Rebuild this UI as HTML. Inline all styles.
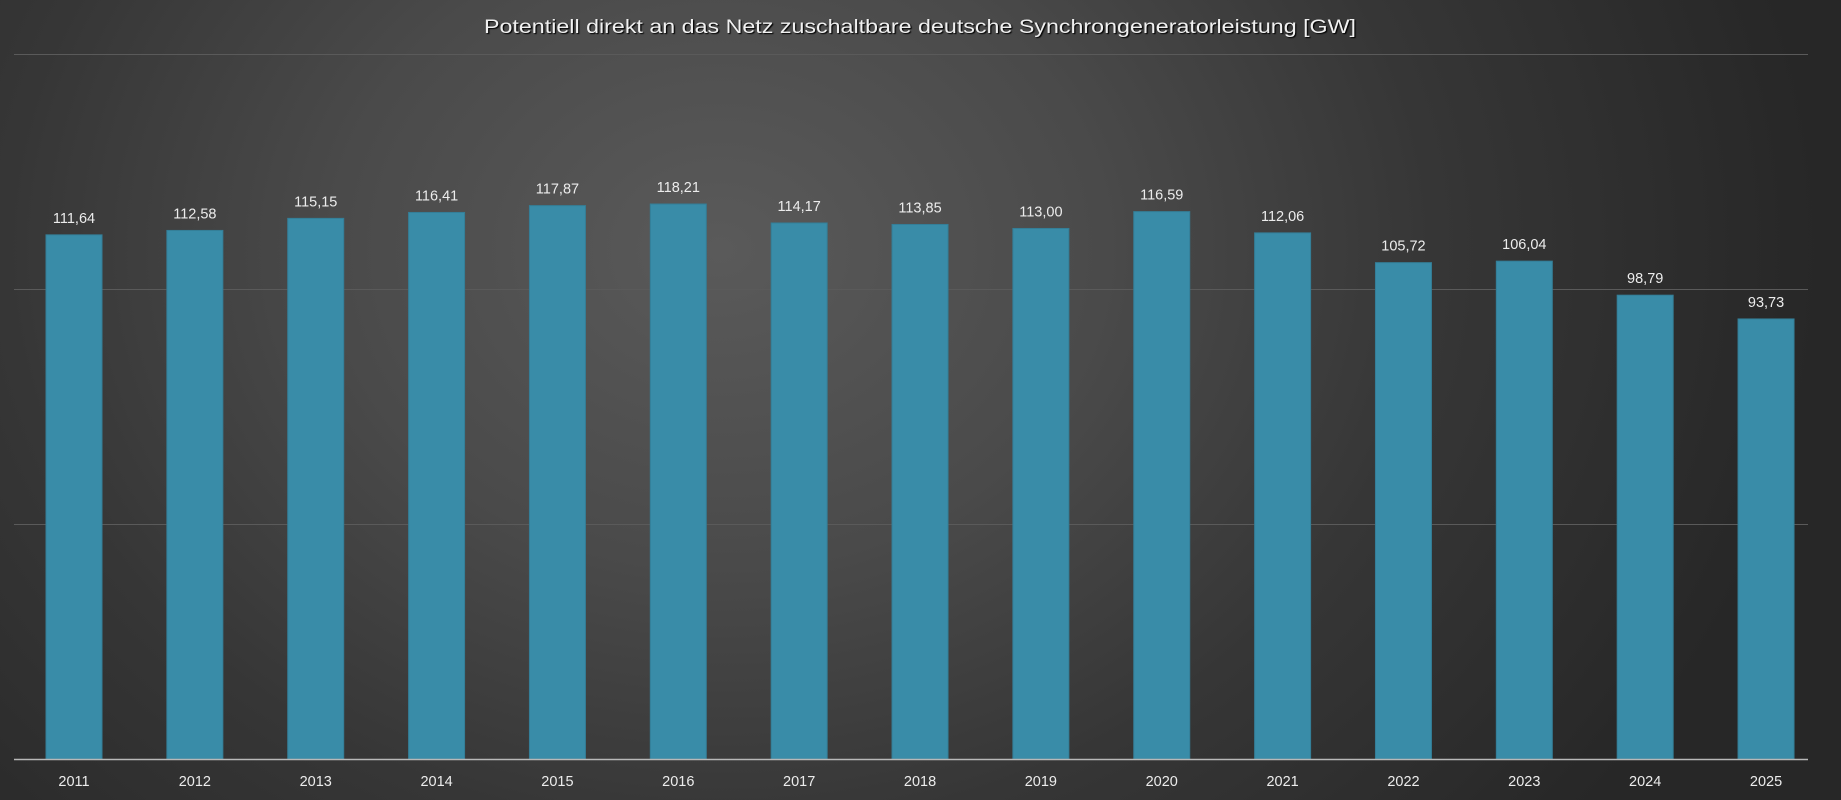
<!DOCTYPE html>
<html><head><meta charset="utf-8"><style>
html,body{margin:0;padding:0;}
body{width:1841px;height:800px;overflow:hidden;background:radial-gradient(ellipse 1100px 900px at 720px 250px,#5a5a5a 0%,#4a4a4a 35%,#363636 65%,#272727 100%);}
svg{display:block;font-family:"Liberation Sans","DejaVu Sans",sans-serif;}
</style></head><body>
<svg width="1841" height="800" xmlns="http://www.w3.org/2000/svg">
<text x="920" y="33" fill="#f0f0f0" font-size="19" text-anchor="middle" textLength="872" lengthAdjust="spacingAndGlyphs" style="text-shadow:1px 1px 1px #000">Potentiell  direkt  an  das  Netz  zuschaltbare  deutsche  Synchrongeneratorleistung  [GW]</text>
<g stroke="#5a5a5a" stroke-width="1">
<line x1="14" x2="1808" y1="54.5" y2="54.5"/>
<line x1="14" x2="1808" y1="289.5" y2="289.5"/>
<line x1="14" x2="1808" y1="524.5" y2="524.5"/>
</g>
<g id="bars" fill="#398ca8" stroke="#347e97" stroke-width="1"></g>
<line x1="14" x2="1808" y1="759.5" y2="759.5" stroke="#b8b8b8" stroke-width="1.5"/>
<g id="labels" fill="#ececec" font-size="14.5" text-anchor="middle"></g>
</svg>
<script>
var v=[111.64,112.58,115.15,116.41,117.87,118.21,114.17,113.85,113.00,116.59,112.06,105.72,106.04,98.79,93.73];
var bars=document.getElementById('bars'),lab=document.getElementById('labels');var ns='http://www.w3.org/2000/svg';
v.forEach(function(val,i){var cx=74+i*120.86;var top=759-val*4.695;
var r=document.createElementNS(ns,'rect');r.setAttribute('x',cx-28);r.setAttribute('y',top);r.setAttribute('width',56);r.setAttribute('height',759-top);bars.appendChild(r);
var t=document.createElementNS(ns,'text');t.setAttribute('x',cx);t.setAttribute('y',top-12);t.textContent=val.toFixed(2).replace('.',',');lab.appendChild(t);
var y=document.createElementNS(ns,'text');y.setAttribute('x',cx);y.setAttribute('y',786);y.textContent=2011+i;lab.appendChild(y);});
</script>
</body></html>
